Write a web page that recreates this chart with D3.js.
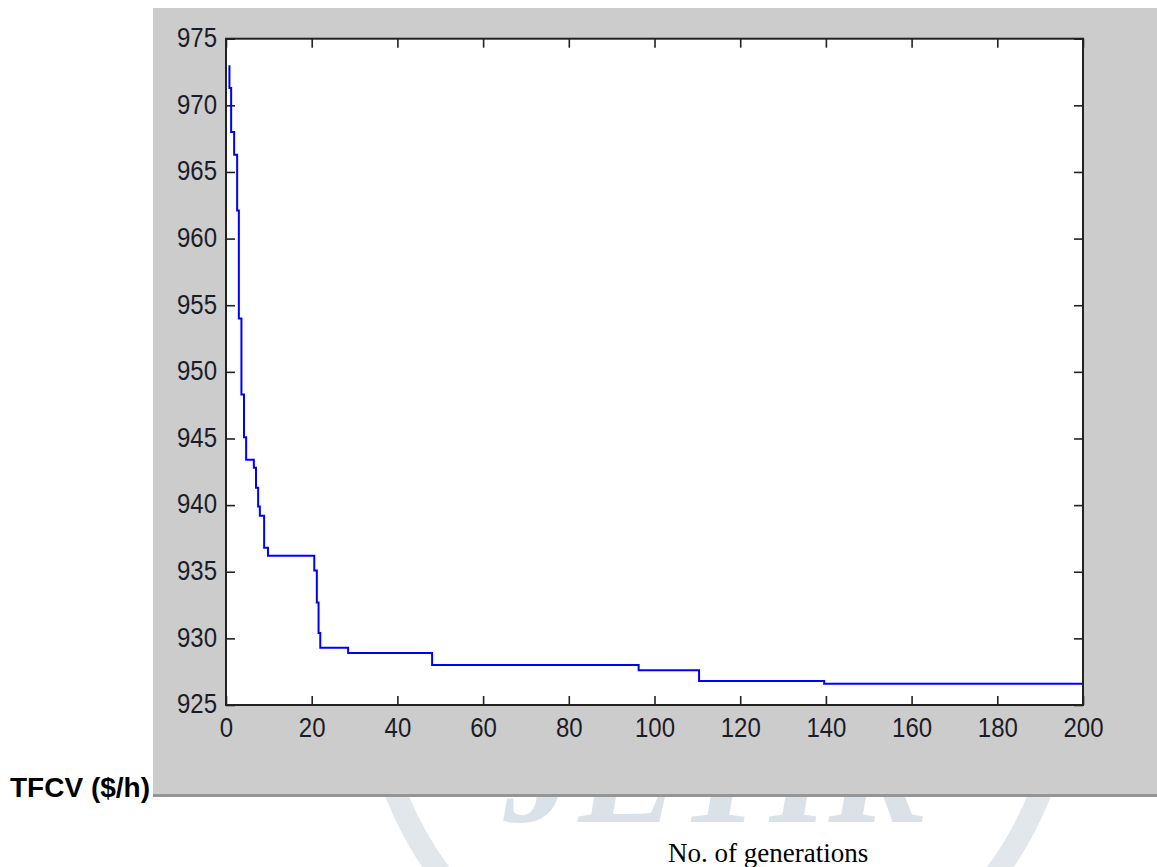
<!DOCTYPE html>
<html lang="en">
<head>
    <meta charset="UTF-8">
    <title>TFCV convergence</title>
    <script src="https://d3js.org/d3.v7.min.js"></script>
    <style>
        body { margin: 0; background: #fff; }
    </style>
</head>
<body>
    <div id="chart"></div>
    <script>
        // Values: generation where each step starts, and TFCV there
        const genSteps = [0.8, 0.8, 1.2, 1.9, 2.6, 3.0, 3.6, 4.2, 4.7, 6.5, 7.0, 7.5, 7.9, 8.9, 9.8,
                          20.6, 21.2, 21.6, 22.0, 28.5, 48.1, 96.3, 110.4, 139.6, 200];
        const tfcvValues = [973.0, 971.3, 968.0, 966.3, 962.1, 954.0, 948.3, 945.1, 943.4, 942.8, 941.3, 939.9, 939.2, 936.8, 936.2,
                            935.1, 932.7, 930.4, 929.3, 928.9, 928.0, 927.6, 926.8, 926.6, 926.6];
        const xTicks = [0, 20, 40, 60, 80, 100, 120, 140, 160, 180, 200];
        const yTicks = [925, 930, 935, 940, 945, 950, 955, 960, 965, 970, 975];

        const width = 1157;
        const height = 867;

        // plot box in page pixels
        const box = { left: 226, top: 38.7, right: 1083, bottom: 705 };
        // tick labels are drawn a little taller than wide, like the original
        const stretch = 1.16;

        const svg = d3.select("#chart").append("svg")
            .attr("width", width)
            .attr("height", height)
            .style("display", "block");

        // faint watermark behind the figure
        const wm = svg.append("g").attr("fill", "none");
        wm.append("circle")
            .attr("cx", 718).attr("cy", 667).attr("r", 346)
            .attr("stroke", "#e1e7eb")
            .attr("stroke-width", 22);
        wm.append("text")
            .attr("x", 716).attr("y", 822)
            .attr("text-anchor", "middle")
            .attr("font-family", "'Liberation Serif', 'DejaVu Serif', serif")
            .attr("font-weight", "bold")
            .attr("font-style", "italic")
            .attr("font-size", 150)
            .attr("fill", "#dbe2e7")
            .text("JETIR");

        // grey figure background
        svg.append("rect")
            .attr("x", 153).attr("y", 8)
            .attr("width", width - 153).attr("height", 787)
            .attr("fill", "#cccccc");
        svg.append("line")
            .attr("x1", 153).attr("x2", width)
            .attr("y1", 795.5).attr("y2", 795.5)
            .attr("stroke", "#959595")
            .attr("stroke-width", 3);

        // white axes area
        svg.append("rect")
            .attr("x", box.left).attr("y", box.top)
            .attr("width", box.right - box.left).attr("height", box.bottom - box.top)
            .attr("fill", "#fff");

        const x = d3.scaleLinear().domain([0, 200]).range([box.left, box.right]);
        const y = d3.scaleLinear().domain([925, 975]).range([box.bottom, box.top]);

        const fontTicks = "'Liberation Sans', Arial, Helvetica, sans-serif";

        // bottom axis with labels
        const gx = svg.append("g")
            .attr("transform", `translate(0,${box.bottom})`)
            .call(d3.axisBottom(x).tickValues(xTicks).tickSizeInner(-9).tickSizeOuter(0));
        // left axis with labels
        const gy = svg.append("g")
            .attr("transform", `translate(${box.left},0)`)
            .call(d3.axisLeft(y).tickValues(yTicks).tickSizeInner(-9).tickSizeOuter(0));
        // top and right: ticks only
        const gt = svg.append("g")
            .attr("transform", `translate(0,${box.top})`)
            .call(d3.axisTop(x).tickValues(xTicks).tickSizeInner(-9).tickSizeOuter(0).tickFormat(""));
        const gr = svg.append("g")
            .attr("transform", `translate(${box.right},0)`)
            .call(d3.axisRight(y).tickValues(yTicks).tickSizeInner(-9).tickSizeOuter(0).tickFormat(""));

        [gx, gy, gt, gr].forEach(g => {
            g.select(".domain").remove();
            g.selectAll(".tick line").attr("stroke", "#222").attr("stroke-width", 1.6);
            g.selectAll(".tick text")
                .attr("fill", "#1c1c28")
                .attr("font-family", fontTicks)
                .attr("font-size", 24);
        });

        // stretch labels vertically about the tick origin
        gx.selectAll(".tick text")
            .attr("transform", `scale(1,${stretch})`)
            .attr("y", 10.3)
            .attr("dy", "0.71em");
        gy.selectAll(".tick text")
            .attr("transform", `scale(1,${stretch})`)
            .attr("x", -9)
            .attr("y", 0)
            .attr("dy", "0.28em");

        // the convergence curve
        const line = d3.line()
            .x((d, i) => x(genSteps[i]))
            .y(d => y(d))
            .curve(d3.curveStepAfter);

        svg.append("path")
            .datum(tfcvValues)
            .attr("d", line)
            .attr("fill", "none")
            .attr("stroke", "#0000ff")
            .attr("stroke-width", 2);

        // axes frame
        svg.append("rect")
            .attr("x", box.left).attr("y", box.top)
            .attr("width", box.right - box.left).attr("height", box.bottom - box.top)
            .attr("fill", "none")
            .attr("stroke", "#222")
            .attr("stroke-width", 2);

        // axis titles placed as in the page
        svg.append("text")
            .attr("x", 10).attr("y", 797)
            .attr("font-family", "'Liberation Sans', Arial, sans-serif")
            .attr("font-weight", "bold")
            .attr("font-size", 28)
            .attr("fill", "#000")
            .text("TFCV ($/h)");

        svg.append("text")
            .attr("x", 668).attr("y", 862)
            .attr("font-family", "'Liberation Serif', 'Times New Roman', serif")
            .attr("font-size", 27)
            .attr("fill", "#000")
            .text("No. of generations");
    </script>
</body>
</html>
